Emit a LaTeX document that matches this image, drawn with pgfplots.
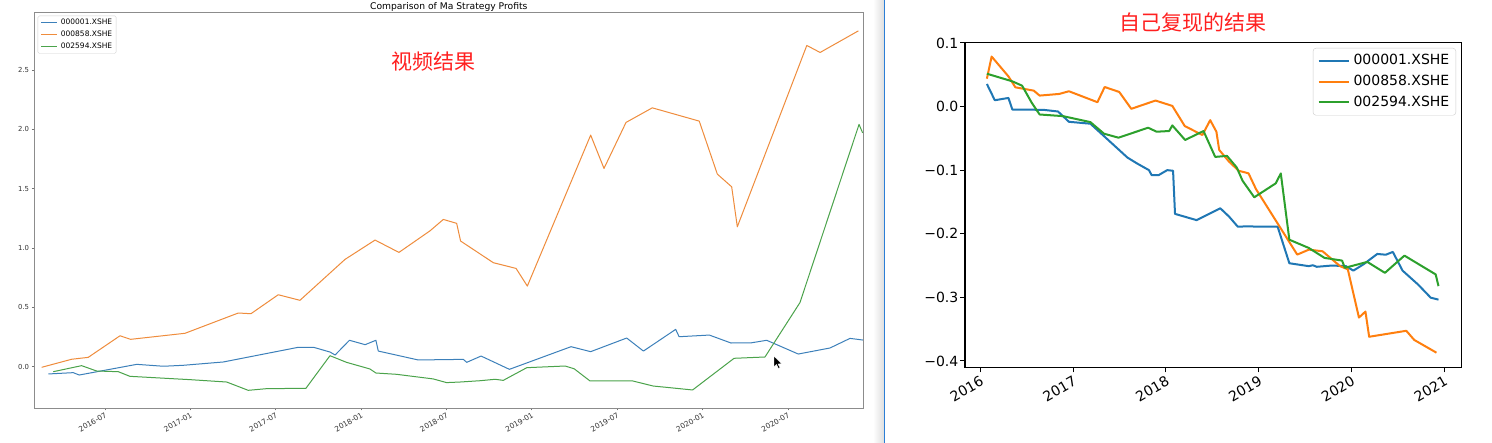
\documentclass[border=0pt]{standalone}
\usepackage{fontspec}
\setmainfont{DejaVu Sans}
\newfontfamily\cjk{Noto Sans CJK SC}
\usepackage{pgfplots}
\pgfplotsset{compat=1.18}
\definecolor{mblue}{HTML}{1F77B4}
\definecolor{morange}{HTML}{FF7F0E}
\definecolor{mgreen}{HTML}{2CA02C}
\definecolor{vblue}{HTML}{3C80BA}
\definecolor{vorange}{HTML}{EF8C3C}
\definecolor{vgreen}{HTML}{4BA34B}
\definecolor{notered}{HTML}{FF2020}
\definecolor{splitblue}{HTML}{2B7ED6}
\pgfplotsset{
  mpl/.style={
    scale only axis,
    tick align=outside,
    xtick pos=bottom,
    ytick pos=left,
    legend cell align=left,
    every axis plot/.append style={line join=round, mark=none},
    xticklabel style={rotate=30, anchor=north east},
  }
}

\begin{document}
\begin{tikzpicture}[x=1pt,y=1pt]
\useasboundingbox (0,0) rectangle (1492,443);
\fill[white] (0,0) rectangle (1492,443);

% left panel: screenshot of the video
\begin{axis}[
  mpl,
  at={(34.3pt,35pt)}, anchor=south west,
  width=829pt, height=395.5pt,
  xmin=2016.086, xmax=2020.942,
  ymin=-0.349, ymax=2.986,
  xtick={2016.5,2017,2017.5,2018,2018.5,2019,2019.5,2020,2020.5},
  xticklabels={2016-07,2017-01,2017-07,2018-01,2018-07,2019-01,2019-07,2020-01,2020-07},
  ytick={0,0.5,1,1.5,2,2.5},
  yticklabels={0.0,0.5,1.0,1.5,2.0,2.5},
  tick label style={text=black!80},
  xticklabel style={inner sep=1pt, font=\fontsize{7.4}{8}\selectfont},
  yticklabel style={inner sep=1pt, xshift=-1.5pt, font=\fontsize{6.9}{7}\selectfont},
  major tick length=2.5pt,
  tick style={black!55, line width=0.6pt},
  axis line style={draw=black!45, line width=0.8pt},
  clip mode=individual,
  legend style={at={(0,1)}, anchor=north west, xshift=3.4pt, yshift=-3.2pt,
    font=\fontsize{7.5}{8}\selectfont, draw=black!18, rounded corners=1.5pt,
    inner xsep=3pt, inner ysep=3.5pt, row sep=4.5pt,
    nodes={inner xsep=1pt, inner ysep=0pt, text height=5.6pt, text depth=1.6pt}},
  legend image code/.code={\draw[#1] (0pt,0pt) -- (16pt,0pt); \path (18pt,0pt);},
  every axis plot/.append style={line width=1pt},
]
\addplot[vblue] table {
2016.168 -0.062
2016.314 -0.051
2016.349 -0.071
2016.686 0.019
2016.842 0.003
2016.959 0.011
2017.193 0.039
2017.633 0.163
2017.721 0.163
2017.818 0.123
2017.848 0.098
2017.932 0.222
2018.024 0.185
2018.087 0.222
2018.101 0.131
2018.335 0.056
2018.599 0.061
2018.619 0.036
2018.703 0.089
2018.869 -0.023
2019.230 0.168
2019.345 0.126
2019.556 0.241
2019.654 0.131
2019.843 0.314
2019.863 0.252
2020.040 0.266
2020.167 0.199
2020.288 0.201
2020.376 0.222
2020.561 0.106
2020.747 0.157
2020.864 0.238
2020.940 0.224
};
\addlegendentry{000001.XSHE}
\addplot[vorange] table {
2016.129 -0.006
2016.305 0.062
2016.402 0.078
2016.588 0.260
2016.650 0.230
2016.969 0.281
2017.281 0.452
2017.355 0.446
2017.515 0.606
2017.642 0.559
2017.906 0.904
2018.082 1.067
2018.222 0.963
2018.404 1.145
2018.482 1.241
2018.560 1.208
2018.583 1.059
2018.775 0.876
2018.908 0.828
2018.974 0.679
2019.345 1.952
2019.423 1.671
2019.552 2.059
2019.706 2.182
2019.981 2.070
2020.087 1.623
2020.171 1.516
2020.204 1.179
2020.611 2.708
2020.689 2.649
2020.913 2.831
};
\addlegendentry{000858.XSHE}
\addplot[vgreen] table {
2016.197 -0.043
2016.363 0.008
2016.451 -0.037
2016.578 -0.043
2016.646 -0.082
2016.998 -0.110
2017.213 -0.130
2017.339 -0.200
2017.447 -0.186
2017.677 -0.183
2017.818 0.092
2017.915 0.036
2018.052 -0.020
2018.087 -0.054
2018.208 -0.065
2018.423 -0.104
2018.501 -0.135
2018.580 -0.130
2018.697 -0.119
2018.785 -0.107
2018.833 -0.116
2018.971 -0.009
2019.195 0.005
2019.248 -0.018
2019.341 -0.121
2019.591 -0.121
2019.712 -0.164
2019.790 -0.175
2019.942 -0.197
2020.185 0.070
2020.366 0.081
2020.571 0.540
2020.917 2.042
2020.938 1.971
};
\addlegendentry{002594.XSHE}
\node[font=\fontsize{9.2}{10}\selectfont, anchor=base, inner sep=0pt, yshift=3.2pt] at (rel axis cs:0.5,1) {Comparison of Ma Strategy Profits};
\node[font=\cjk\fontsize{21}{21}\selectfont, text=notered] at (rel axis cs:0.482,0.877) {视频结果};
\end{axis}

% window split
\shade[left color=white, right color=black!13] (873,0) rectangle (884,443);
\draw[splitblue, line width=1.3pt] (884.5,0) -- (884.5,443);
\filldraw[fill=black, draw=white, line width=0.4pt] (774,87) -- (774,76) -- (776.5,78.5) -- (778.5,74.5) -- (780,75.3) -- (778,79) -- (781.5,79.3) -- cycle;

% right panel: own reproduction
\node[font=\cjk\fontsize{21}{21}\selectfont, text=notered] at (1193,420.5) {自己复现的结果};
\begin{axis}[
  mpl,
  at={(965pt,75.7pt)}, anchor=south west,
  width=496.3pt, height=325pt,
  xmin=2015.835, xmax=2021.183,
  ymin=-0.41, ymax=0.101,
  xtick={2016,2017,2018,2019,2020,2021},
  xticklabels={2016,2017,2018,2019,2020,2021},
  ytick={-0.4,-0.3,-0.2,-0.1,0,0.1},
  yticklabels={−0.4,−0.3,−0.2,−0.1,0.0,0.1},
  tick label style={font=\fontsize{14}{16}\selectfont, text=black},
  xticklabel style={inner sep=2pt},
  yticklabel style={inner sep=1.5pt},
  major tick length=5pt,
  tick style={black, line width=1pt},
  axis line style={draw=black, line width=1.1pt},
  legend style={at={(1,1)}, anchor=north east, xshift=-5.3pt, yshift=-5.7pt,
    font=\fontsize{14}{16}\selectfont, draw=black!20, rounded corners=3pt,
    inner xsep=4.5pt, inner ysep=6pt, row sep=7pt,
    nodes={inner xsep=2pt, inner ysep=0pt, text height=10.5pt, text depth=3.2pt}},
  legend image code/.code={\draw[#1] (0pt,0pt) -- (30pt,0pt); \path (32pt,0pt);},
  every axis plot/.append style={line width=2pt},
]
\addplot[mblue] table {
2016.071 0.0354
2016.156 0.0099
2016.303 0.0135
2016.345 -0.0047
2016.681 -0.0052
2016.837 -0.0078
2016.955 -0.0240
2017.186 -0.0270
2017.585 -0.0802
2017.690 -0.0896
2017.817 -0.1000
2017.846 -0.1078
2017.922 -0.1078
2018.014 -0.1000
2018.077 -0.1010
2018.098 -0.1688
2018.330 -0.1786
2018.586 -0.1600
2018.680 -0.1730
2018.775 -0.1890
2018.847 -0.1885
2019.204 -0.1890
2019.330 -0.2464
2019.540 -0.2510
2019.583 -0.2495
2019.625 -0.2520
2019.790 -0.2500
2019.940 -0.2510
2020.020 -0.2580
2020.130 -0.2480
2020.277 -0.2318
2020.370 -0.2330
2020.445 -0.2286
2020.550 -0.2580
2020.718 -0.2800
2020.853 -0.3005
2020.937 -0.3036
};
\addlegendentry{000001.XSHE}
\addplot[morange] table {
2016.071 0.0438
2016.122 0.0786
2016.303 0.0474
2016.378 0.0302
2016.576 0.0250
2016.639 0.0172
2016.850 0.0198
2016.955 0.0240
2017.262 0.0068
2017.340 0.0307
2017.497 0.0229
2017.627 -0.0036
2017.888 0.0094
2018.069 0.0010
2018.203 -0.0307
2018.393 -0.0448
2018.477 -0.0214
2018.544 -0.0396
2018.574 -0.0682
2018.679 -0.0865
2018.784 -0.1010
2018.890 -0.1050
2018.970 -0.1297
2019.415 -0.2328
2019.540 -0.2250
2019.688 -0.2276
2019.877 -0.2510
2019.960 -0.2560
2020.080 -0.3318
2020.150 -0.3224
2020.190 -0.3620
2020.590 -0.3526
2020.676 -0.3670
2020.915 -0.3870
};
\addlegendentry{000858.XSHE}
\addplot[mgreen] table {
2016.071 0.0516
2016.345 0.0396
2016.450 0.0328
2016.555 0.0057
2016.639 -0.0125
2016.891 -0.0151
2017.186 -0.0245
2017.333 -0.0427
2017.489 -0.0490
2017.808 -0.0333
2017.900 -0.0396
2018.035 -0.0385
2018.069 -0.0297
2018.207 -0.0526
2018.405 -0.0385
2018.531 -0.0792
2018.658 -0.0776
2018.763 -0.0958
2018.826 -0.1167
2018.952 -0.1427
2019.183 -0.1208
2019.238 -0.1052
2019.330 -0.2094
2019.540 -0.2224
2019.709 -0.2380
2019.898 -0.2422
2019.928 -0.2536
2020.170 -0.2443
2020.360 -0.2615
2020.570 -0.2344
2020.907 -0.2640
2020.937 -0.2823
};
\addlegendentry{002594.XSHE}
\end{axis}
\end{tikzpicture}
\end{document}
